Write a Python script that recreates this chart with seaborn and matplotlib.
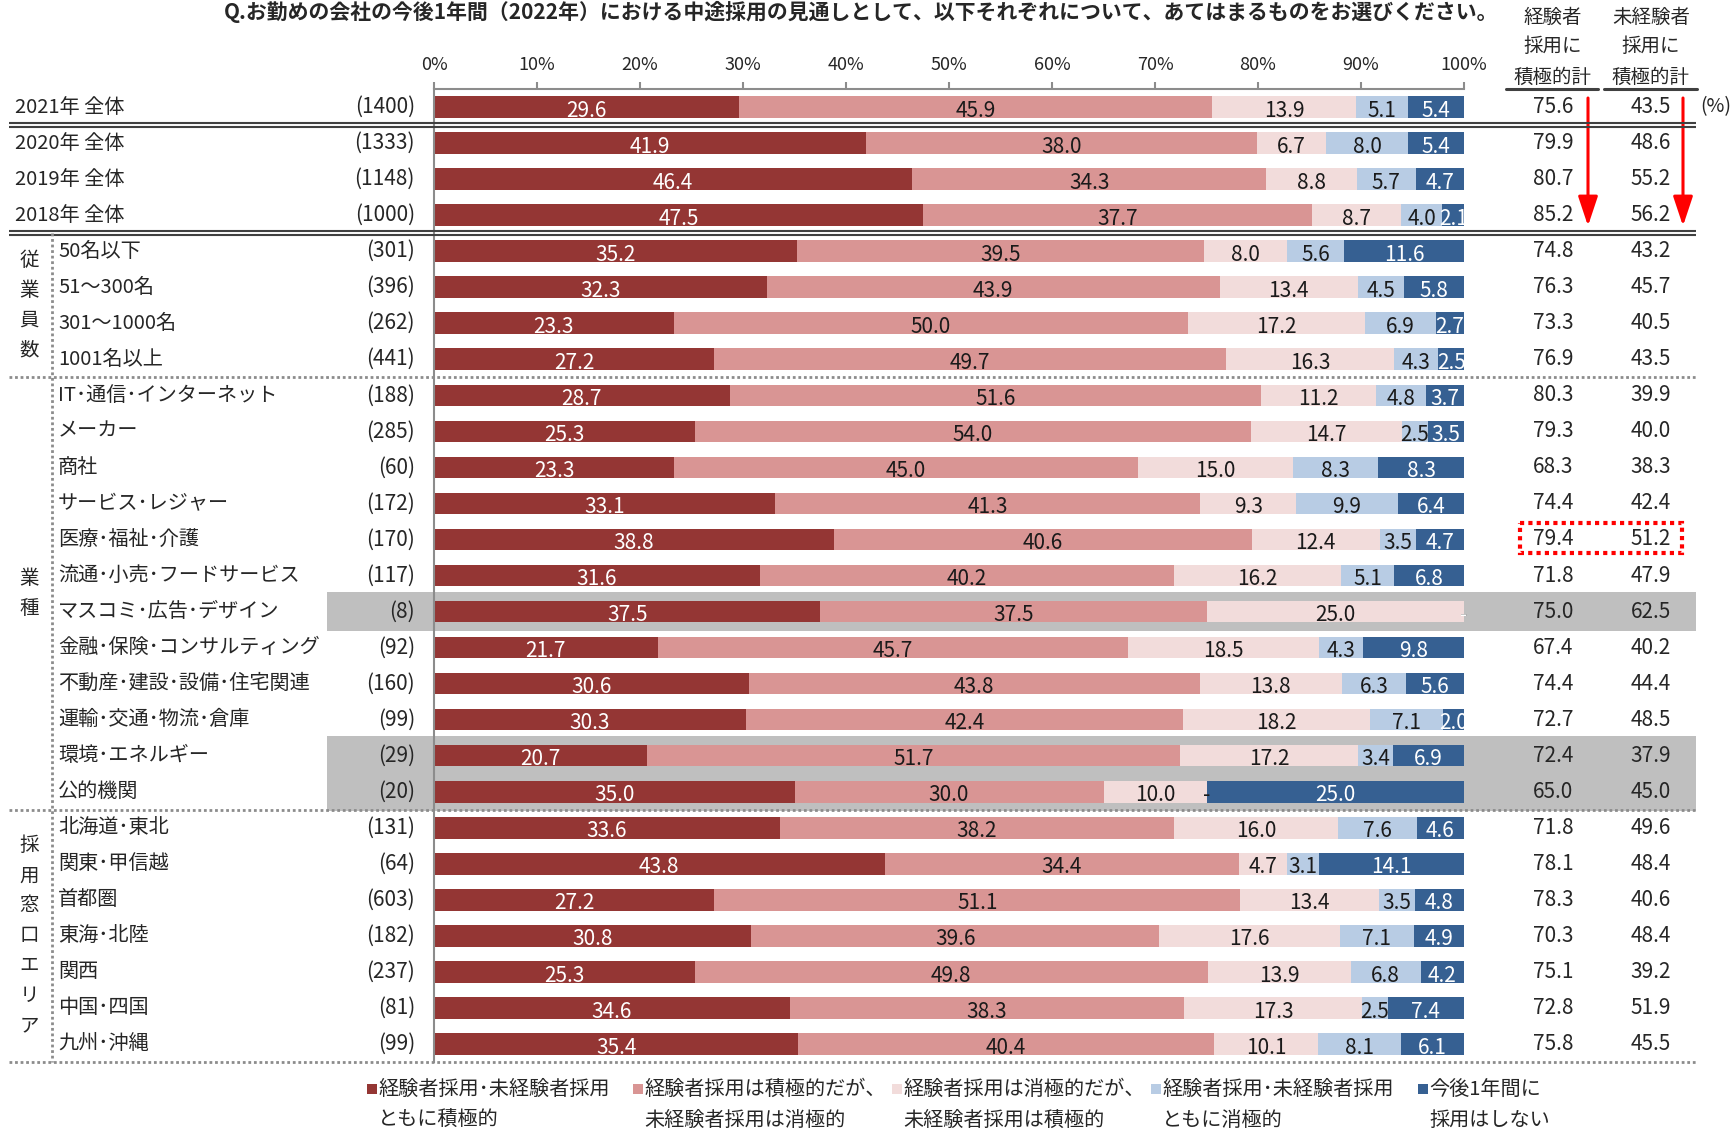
"""
中途採用の見通し（2022年）: 100%積み上げ横棒グラフの再現
"""

import numpy as np
import pandas as pd
import matplotlib.pyplot as plt
import matplotlib.transforms as mtrans
from matplotlib.patches import Rectangle
import seaborn as sns

### データ
labels = ["2021年 全体", "2020年 全体", "2019年 全体", "2018年 全体",
          "50名以下", "51～300名", "301～1000名", "1001名以上",
          "IT･通信･インターネット", "メーカー", "商社", "サービス･レジャー",
          "医療･福祉･介護", "流通･小売･フードサービス", "マスコミ･広告･デザイン",
          "金融･保険･コンサルティング", "不動産･建設･設備･住宅関連",
          "運輸･交通･物流･倉庫", "環境･エネルギー", "公的機関",
          "北海道･東北", "関東･甲信越", "首都圏", "東海･北陸", "関西",
          "中国･四国", "九州･沖縄"]
n_counts = [1400, 1333, 1148, 1000, 301, 396, 262, 441, 188, 285, 60, 172, 170,
            117, 8, 92, 160, 99, 29, 20, 131, 64, 603, 182, 237, 81, 99]

both_pos = [29.6, 41.9, 46.4, 47.5, 35.2, 32.3, 23.3, 27.2, 28.7, 25.3, 23.3, 33.1, 38.8,
            31.6, 37.5, 21.7, 30.6, 30.3, 20.7, 35.0, 33.6, 43.8, 27.2, 30.8, 25.3, 34.6, 35.4]
exp_only = [45.9, 38.0, 34.3, 37.7, 39.5, 43.9, 50.0, 49.7, 51.6, 54.0, 45.0, 41.3, 40.6,
            40.2, 37.5, 45.7, 43.8, 42.4, 51.7, 30.0, 38.2, 34.4, 51.1, 39.6, 49.8, 38.3, 40.4]
inexp_only = [13.9, 6.7, 8.8, 8.7, 8.0, 13.4, 17.2, 16.3, 11.2, 14.7, 15.0, 9.3, 12.4,
              16.2, 25.0, 18.5, 13.8, 18.2, 17.2, 10.0, 16.0, 4.7, 13.4, 17.6, 13.9, 17.3, 10.1]
both_neg = [5.1, 8.0, 5.7, 4.0, 5.6, 4.5, 6.9, 4.3, 4.8, 2.5, 8.3, 9.9, 3.5,
            5.1, 0.0, 4.3, 6.3, 7.1, 3.4, 0.0, 7.6, 3.1, 3.5, 7.1, 6.8, 2.5, 8.1]
no_hire = [5.4, 5.4, 4.7, 2.1, 11.6, 5.8, 2.7, 2.5, 3.7, 3.5, 8.3, 6.4, 4.7,
           6.8, 0.0, 9.8, 5.6, 2.0, 6.9, 25.0, 4.6, 14.1, 4.8, 4.9, 4.2, 7.4, 6.1]

exp_total = [75.6, 79.9, 80.7, 85.2, 74.8, 76.3, 73.3, 76.9, 80.3, 79.3, 68.3, 74.4, 79.4,
             71.8, 75.0, 67.4, 74.4, 72.7, 72.4, 65.0, 71.8, 78.1, 78.3, 70.3, 75.1, 72.8, 75.8]
inexp_total = [43.5, 48.6, 55.2, 56.2, 43.2, 45.7, 40.5, 43.5, 39.9, 40.0, 38.3, 42.4, 51.2,
               47.9, 62.5, 40.2, 44.4, 48.5, 37.9, 45.0, 49.6, 48.4, 40.6, 48.4, 39.2, 51.9, 45.5]

segment_names = ["経験者採用･未経験者採用\nともに積極的",
                 "経験者採用は積極的だが、\n未経験者採用は消極的",
                 "経験者採用は消極的だが、\n未経験者採用は積極的",
                 "経験者採用･未経験者採用\nともに消極的",
                 "今後1年間に\n採用はしない"]
colors = ["#943634", "#D99594", "#F2DCDB", "#B8CCE4", "#366092"]
text_colors = ["white", "#1a1a1a", "#1a1a1a", "#1a1a1a", "white"]

groups = [("従業員数", 4, 7), ("業種", 8, 19), ("採用窓口エリア", 20, 26)]
highlight_rows = [14, 18, 19]

title = ("Q.お勤めの会社の今後1年間（2022年）における中途採用の見通しとして、"
         "以下それぞれについて、あてはまるものをお選びください。")

### 積み上げ用の累積値（100%に正規化）
vals = np.array([both_pos, exp_only, inexp_only, both_neg, no_hire]).T
tot = vals.sum(axis=1, keepdims=True)
right = vals.cumsum(axis=1) / tot * 100
left = right - vals / tot * 100

df = pd.DataFrame({
    "label": np.repeat(labels, 5),
    "segment": segment_names * len(labels),
    "right": right.ravel(),
})

### 図
W, H = 1736, 1133
sns.set_style("white")
plt.rcParams["font.family"] = ["Noto Sans CJK JP", "DejaVu Sans"]

fig = plt.figure(figsize=(W / 100, H / 100), dpi=100)
ax = fig.add_axes([434 / W, 1 - 1062 / H, 1030 / W, 973 / H])
ax.set_facecolor("none")

# pixel coords (from top-left) for the layout, rows for y
px = mtrans.Affine2D().scale(1 / W, -1 / H).translate(0, 1) + fig.transFigure
row = mtrans.blended_transform_factory(px, ax.transData)

sns.barplot(data=df, x="right", y="label", hue="segment", order=labels,
            hue_order=segment_names[::-1], palette=dict(zip(segment_names, colors)),
            dodge=False, orient="h", width=0.6, saturation=1, errorbar=None,
            linewidth=0, legend=False, ax=ax, zorder=2)

ax.set_xlim(0, 100)
ax.set_ylim(len(labels) - 0.5, -0.5)
ax.set_xlabel("")
ax.set_ylabel("")

# axes
ax.xaxis.tick_top()
ax.set_xticks(range(0, 101, 10))
ax.set_xticklabels([f"{t}%" for t in range(0, 101, 10)])
ax.tick_params(axis="x", direction="out", length=5, width=1.5, color="#8c8c8c",
               pad=6, labelsize=13, top=True, bottom=False, labeltop=True, labelbottom=False)
ax.set_yticks(range(len(labels)))
ax.set_yticks(np.arange(0.5, len(labels) - 1, 1), minor=True)
ax.tick_params(axis="y", which="major", length=0, labelleft=False)
ax.tick_params(axis="y", which="minor", direction="in", length=5, width=1.5, color="#8c8c8c")
for s in ["right", "bottom"]:
    ax.spines[s].set_visible(False)
for s in ["top", "left"]:
    ax.spines[s].set_color("#8c8c8c")
    ax.spines[s].set_linewidth(1.5)

# gray highlight rows
for r in highlight_rows:
    ax.add_patch(Rectangle((327, r - 0.54), 1696 - 327, 1.08, transform=row,
                           facecolor="#BFBFBF", edgecolor="none", zorder=0, clip_on=False))

# values in bars
for i in range(len(labels)):
    for k in range(5):
        v = vals[i, k]
        x = (left[i, k] + right[i, k]) / 2
        ax.text(x, i + 0.1, f"{v:.1f}" if v > 0 else "-", ha="center", va="center",
                fontsize=15, color=text_colors[k], zorder=3, clip_on=False)

# row labels, n, totals
for i, lab in enumerate(labels):
    ax.text(15 if i < 4 else 58, i, lab, transform=row, ha="left", va="center", fontsize=14.5)
    ax.text(415, i, f"({n_counts[i]})", transform=row, ha="right", va="center", fontsize=15)
    ax.text(1553, i, f"{exp_total[i]:.1f}", transform=row, ha="center", va="center", fontsize=15)
    ax.text(1651, i, f"{inexp_total[i]:.1f}", transform=row, ha="center", va="center", fontsize=15)
ax.text(1700, 0, "(%)", transform=row, ha="left", va="center", fontsize=14)

# group labels (vertical)
for name, a, b in groups:
    mid = (a + b) / 2
    for j, ch in enumerate(name):
        ax.text(29, mid + (j - (len(name) - 1) / 2) * 30 / 36.04, ch, transform=row,
                ha="center", va="center", fontsize=14)

# separators
for y in [0.5, 3.5]:
    for d in (-0.058, 0.058):
        ax.plot([9, 1696], [y + d, y + d], transform=row, color="#404040", lw=1.5,
                clip_on=False, solid_capstyle="butt", zorder=4)
for y in [7.5, 19.5, 26.5]:
    ax.plot([9, 1696], [y, y], transform=row, color="#8c8c8c", lw=2, ls=(0, (1, 1)),
            clip_on=False, zorder=4)
ax.plot([52, 52], [3.5, 26.5], transform=row, color="#8c8c8c", lw=2, ls=(0, (1, 1)),
        clip_on=False, zorder=4)

# column headers
for xc, first in [(1553, "経験者"), (1651, "未経験者")]:
    for yy, t in zip([17, 47, 77], [first, "採用に", "積極的計"]):
        fig.text(xc, yy, t, transform=px, ha="center", va="center", fontsize=14)
ax.plot([1506, 1598], [89, 89], transform=px, color="#404040", lw=2.2, clip_on=False)
ax.plot([1604, 1697], [89, 89], transform=px, color="#404040", lw=2.2, clip_on=False)

# red arrows and dotted box
for xa in [1588, 1683]:
    ax.annotate("", xy=(xa, 3.3), xytext=(xa, -0.25), xycoords=row, textcoords=row,
                arrowprops=dict(arrowstyle="-|>,head_length=0.9,head_width=0.3",
                                color="red", lw=2.2, mutation_scale=20,
                                shrinkA=0, shrinkB=0), annotation_clip=False)
ax.add_patch(Rectangle((1520, 12 - 0.46), 162, 0.84, transform=row, fill=False,
                       edgecolor="red", lw=3, ls=(0, (1, 1)), clip_on=False, zorder=5))

# title
fig.text(861, 12, title, transform=px, ha="center", va="center", fontsize=15,
         fontweight="bold")

# legend
leg_x = [367, 633, 892, 1151, 1418]
for x0, name, c in zip(leg_x, segment_names, colors):
    fig.patches.append(Rectangle((x0, 1084), 10, 10, transform=px, facecolor=c,
                                 edgecolor="none"))
    l1, l2 = name.split("\n")
    fig.text(x0 + 11, 1089, l1, transform=px, ha="left", va="center", fontsize=14.5)
    fig.text(x0 + 11, 1120, l2, transform=px, ha="left", va="center", fontsize=14.5)

fig.savefig("out.png", dpi=100)
